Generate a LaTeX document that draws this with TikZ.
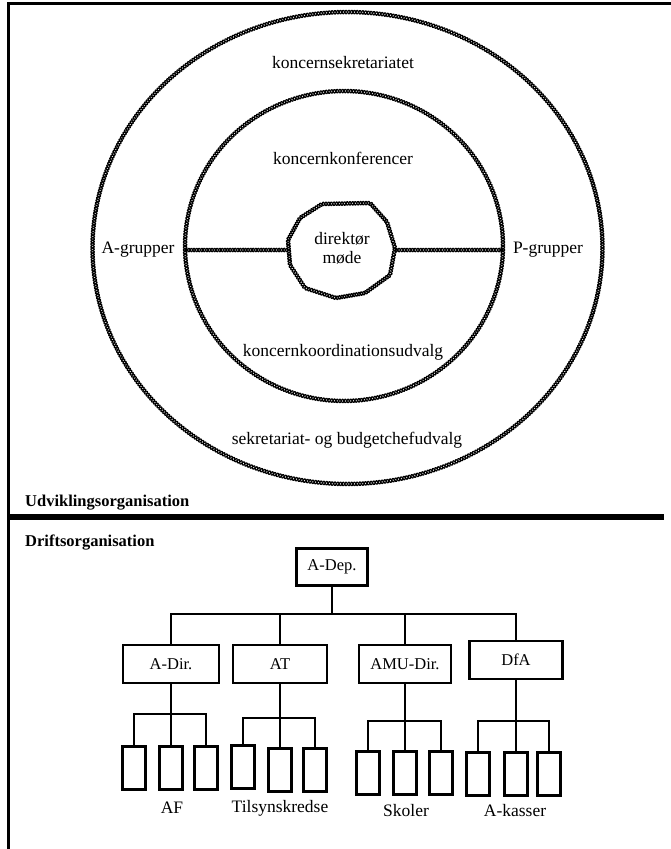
\documentclass[tikz,border=0pt]{standalone}
\usepackage{fontspec}
\setmainfont{Liberation Serif}
\newcommand{\wavyseg}[5]{% x1 y1 x2 y2 cycles
  \pgfmathtruncatemacro\wsn{#5*6+1}%
  \pgfmathsetmacro\wlen{veclen((#3)-(#1),(#4)-(#2))}%
  \foreach \sg in {1,-1}{%
    \draw[chainline] plot[domain=0:1, samples=\wsn, variable=\s]
      ({(#1)+((#3)-(#1))*\s-(\sg)*1.9*sin((#5)*360*\s)*((#4)-(#2))/\wlen},
       {(#2)+((#4)-(#2))*\s+(\sg)*1.9*sin((#5)*360*\s)*((#3)-(#1))/\wlen});
  }}
\newcommand{\wavyell}[5]{% cx cy rx ry cycles-per-45deg
  \pgfmathtruncatemacro\wen{#5*6+1}%
  \foreach \a in {0,45,...,315}{%
    \foreach \sg in {1,-1}{%
      \draw[chainline] plot[domain=0:45, samples=\wen, variable=\s]
        ({(#1)+((#3)+(\sg)*1.9*sin((#5)*8*\s))*cos(\a+\s)},
         {(#2)+((#4)+(\sg)*1.9*sin((#5)*8*\s))*sin(\a+\s)});
    }}}
\begin{document}
\begin{tikzpicture}[x=1pt,y=-1pt,
  lbl/.style={font=\fontsize{17.5}{19}\selectfont, inner sep=0pt},
  sublbl/.style={font=\fontsize{17.5}{19}\selectfont, inner sep=0pt},
  hd/.style={font=\fontsize{16.5}{18}\selectfont\bfseries, anchor=west, inner sep=0pt},
  box/.style={draw, line width=2.5pt, inner sep=0pt, font=\fontsize{16.5}{18}\selectfont},
  smallbox/.style={box, minimum width=23pt, minimum height=43pt},
  midbox/.style={box, minimum height=38pt},
  conn/.style={line width=2.5pt},
  chainline/.style={line width=1.2pt, line join=round}
]
\useasboundingbox (0,0) rectangle (671,849);

% frame
\draw[line width=3pt] (671,3) -- (8,3) -- (8,849);
\draw[line width=6pt] (8,517) -- (664,517);

% circles
\wavyell{347.5}{248}{255}{236}{36}
\wavyell{344}{246}{159}{155}{23}
\wavyseg{322}{204}{370}{203}{9}
\wavyseg{370}{203}{387}{222}{5}
\wavyseg{387}{222}{395}{248}{5}
\wavyseg{395}{248}{390}{275}{5}
\wavyseg{390}{275}{365}{293}{6}
\wavyseg{365}{293}{336}{298}{6}
\wavyseg{336}{298}{305}{288}{6}
\wavyseg{305}{288}{290}{265}{5}
\wavyseg{290}{265}{288}{240}{5}
\wavyseg{288}{240}{300}{218}{5}
\wavyseg{300}{218}{322}{204}{5}
\wavyseg{185}{250}{288}{250}{20}
\wavyseg{395}{250}{503}{250}{20}

% circle labels
\node[lbl] (ks) at (343,63) {koncernsekretariatet};
\node[lbl] (kk) at (343,158) {koncernkonferencer};
\node[lbl, align=center] (dm) at (342,248) {direktør\\møde};
\node[lbl] (ag) at (138,250) {A-grupper};
\node[lbl] (pg) at (548,250) {P-grupper};
\node[lbl] (kku) at (343,352) {koncernkoordinationsudvalg};
\node[lbl] (sbu) at (347,440) {sekretariat- og budgetchefudvalg};

% headings
\node[hd] (udv) at (25,503) {Udviklingsorganisation};
\node[hd] (drift) at (25,543) {Driftsorganisation};

% org chart
\node[box, minimum width=71pt, minimum height=37pt] (adep) at (332,567) {A-Dep.};
\node[midbox, minimum width=96pt] (adir) at (171,664) {A-Dir.};
\node[midbox, minimum width=94pt] (at) at (280,664) {AT};
\node[midbox, minimum width=92pt] (amu) at (405,664) {AMU-Dir.};
\node[midbox, minimum width=93pt] (dfa) at (516,660) {DfA};

\draw[conn] (adep.south) -- ++(0,27) coordinate (bus);
\draw[conn] (adir.north) |- (bus) -| (dfa.north);
\draw[conn] (at.north) -- (at.north |- bus);
\draw[conn] (amu.north) -- (amu.north |- bus);

% group AF
\node[smallbox] (a1) at (134,768) {};
\node[smallbox] (a2) at (171,768) {};
\node[smallbox] (a3) at (206,768) {};
\coordinate (ja) at (171,714);
\draw[conn] (adir.south) -- (a2.north);
\draw[conn] (a1.north) |- (ja) -| (a3.north);
\node[sublbl] (laf) at (172,808) {AF};

% group Tilsynskredse
\node[smallbox] (b1) at (243,767) {};
\node[smallbox] (b2) at (280,770) {};
\node[smallbox] (b3) at (315,770) {};
\coordinate (jb) at (280,718);
\draw[conn] (at.south) -- (b2.north);
\draw[conn] (b1.north) |- (jb) -| (b3.north);
\node[sublbl] (lts) at (280,808) {Tilsynskredse};

% group Skoler
\node[smallbox] (c1) at (368,773) {};
\node[smallbox] (c2) at (405,773) {};
\node[smallbox] (c3) at (441,773) {};
\coordinate (jc) at (405,721);
\draw[conn] (amu.south) -- (c2.north);
\draw[conn] (c1.north) |- (jc) -| (c3.north);
\node[sublbl] (lsk) at (406,811) {Skoler};

% group A-kasser
\node[smallbox] (d1) at (478,774) {};
\node[smallbox] (d2) at (516,774) {};
\node[smallbox] (d3) at (549,774) {};
\coordinate (jd) at (516,721);
\draw[conn] (dfa.south) -- (d2.north);
\draw[conn] (d1.north) |- (jd) -| (d3.north);
\node[sublbl] (lak) at (515,811) {A-kasser};
\end{tikzpicture}
\end{document}
